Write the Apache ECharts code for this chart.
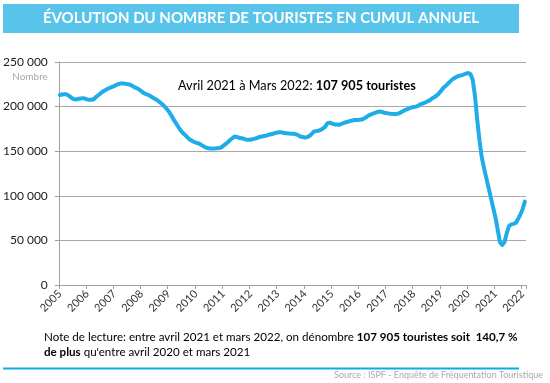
<!DOCTYPE html>
<html>
<head>
<meta charset="utf-8">
<script src="https://cdn.jsdelivr.net/npm/echarts@6/dist/echarts.min.js"></script>
<style>
html,body{margin:0;padding:0;background:#fff;}
#c{width:550px;height:383px;}
</style>
</head>
<body>
<div id="c"></div>
<script>
// Years shown on the x axis (monthly data from Jan 2005 to Feb 2022)
var years = [2005,2006,2007,2008,2009,2010,2011,2012,2013,2014,2015,2016,2017,2018,2019,2020,2021,2022];
// Annual cumulative number of tourists, one value per month, grouped by year
var v2005 = [213000,213500,214000,213500,212000,210000,208500,208000,208500,209000,209500,209000];
var v2006 = [208000,207800,207700,208500,211000,213000,215000,217000,218500,220000,221000,222000];
var v2007 = [223000,224500,225500,226000,226000,225500,225000,224500,223000,221500,220500,219000];
var v2008 = [217000,215000,214000,213000,211500,210000,208500,207000,205000,202800,200500,197500];
var v2009 = [194500,190500,186000,182000,178000,174000,171000,168500,166000,163500,162000,160500];
var v2010 = [159500,159000,157500,156000,154500,153500,153000,153000,153000,153200,153500,154000];
var v2011 = [156000,158000,160000,162500,164500,166500,166000,165000,164500,164000,163000,162800];
var v2012 = [162800,163500,164000,165000,166000,166500,167000,167500,168500,169000,169500,170500];
var v2013 = [171000,171400,171000,170500,170000,169800,169500,169500,169000,168000,166500,166000];
var v2014 = [165400,165800,167000,169500,172000,172500,173000,174000,175500,177500,181500,182000];
var v2015 = [181000,180000,179800,179600,180500,181500,182500,183000,184000,184500,185000,185000];
var v2016 = [185200,185500,186500,188000,190000,191000,192000,193000,194000,194500,194000,193000];
var v2017 = [192700,192300,192000,191800,191600,192000,193000,194500,196000,197000,198000,199000];
var v2018 = [199500,200000,201000,202800,203500,204500,205800,207000,209000,210500,212200,214500];
var v2019 = [217500,220800,223000,225500,228000,230500,232000,233500,234500,235000,236000,237000];
var v2020 = [237600,236500,230000,212000,185000,162000,143000,131000,120000,109000,98000,87000];
var v2021 = [76000,62000,48000,45000,48000,58000,66000,68000,68500,69500,74000,79000];
var v2022 = [85000,93500];

var yTicks = [0,50000,100000,150000,200000,250000];

var titleText = "ÉVOLUTION DU NOMBRE DE TOURISTES EN CUMUL ANNUEL";
var sourceText = "Source : ISPF - Enquête de Fréquentation Touristique";

var values = [].concat(v2005,v2006,v2007,v2008,v2009,v2010,v2011,v2012,v2013,v2014,v2015,v2016,v2017,v2018,v2019,v2020,v2021,v2022);
var cats = [];
for (var i = 0; i < values.length; i++) {
  cats.push(String(years[Math.floor(i/12)]) + '-' + (i%12+1));
}
function fmt(v){ return String(v).replace(/\B(?=(\d{3})+(?!\d))/g, ' '); }

var chart = echarts.init(document.getElementById('c'), null, {renderer:'canvas'});
var FONT = 'Lato, "Liberation Sans", sans-serif';
chart.setOption({
  animation: false,
  backgroundColor: '#fff',
  grid: {left: 57, top: 62, width: 469, height: 223, containLabel: false},
  xAxis: {
    type: 'category',
    data: cats,
    boundaryGap: true,
    axisLine: {show: true, lineStyle: {color: '#a0a0a0', width: 1}},
    axisTick: {show: true, length: 4, interval: function(i){return i % 12 === 0;}, lineStyle: {color: '#a0a0a0'}},
    axisLabel: {
      interval: function(i){return i % 12 === 0;},
      rotate: 45, margin: 7,
      fontFamily: FONT, fontSize: 11, color: '#333',
      formatter: function(v){ return v.split('-')[0]; }
    },
    splitLine: {show: false}
  },
  yAxis: {
    type: 'value',
    min: yTicks[0], max: yTicks[yTicks.length-1], interval: 50000,
    axisLine: {show: true, lineStyle: {color: '#a0a0a0', width: 1}},
    axisTick: {show: true, length: 4, lineStyle: {color: '#a0a0a0'}},
    axisLabel: {fontFamily: FONT, fontSize: 12, color: '#1a1a1a', margin: 11, formatter: fmt},
    splitLine: {show: true, lineStyle: {color: '#a8a8a8', width: 1}}
  },
  series: [{
    type: 'line',
    data: values,
    showSymbol: false,
    smooth: false,
    lineStyle: {color: '#1fadea', width: 4, cap: 'round', join: 'round'},
    itemStyle: {color: '#1fadea'}
  }],
  graphic: [
    {type: 'rect', shape: {x: 3, y: 4, width: 516, height: 29}, style: {fill: '#58c4e9'}},
    {type: 'text', x: 261, y: 18.5, style: {text: titleText, fill: '#fff', font: 'bold 15px ' + FONT, textAlign: 'center', textVerticalAlign: 'middle'}},
    {type: 'text', x: 30, y: 77, style: {text: 'Nombre', fill: '#a9a9a9', font: '10px ' + FONT, textAlign: 'center', textVerticalAlign: 'middle'}},
    {type: 'text', x: 178, y: 86, style: {
      text: '{n|Avril 2021 à Mars 2022: }{b|107 905 touristes}',
      textVerticalAlign: 'middle',
      rich: {n: {fontFamily: FONT, fontSize: 12.7, color: '#111'}, b: {fontFamily: FONT, fontSize: 12.7, fontWeight: 'bold', color: '#111'}}
    }},
    {type: 'text', x: 44, y: 337, style: {
      text: '{n|Note de lecture: entre avril 2021 et mars 2022, on dénombre }{b|107 905 touristes soit  140,7 %}',
      textVerticalAlign: 'middle',
      rich: {n: {fontFamily: FONT, fontSize: 11.6, color: '#111'}, b: {fontFamily: FONT, fontSize: 11.6, fontWeight: 'bold', color: '#111'}}
    }},
    {type: 'text', x: 44, y: 352, style: {
      text: '{b|de plus}{n| qu\'entre avril 2020 et mars 2021}',
      textVerticalAlign: 'middle',
      rich: {n: {fontFamily: FONT, fontSize: 11.6, color: '#111'}, b: {fontFamily: FONT, fontSize: 11.6, fontWeight: 'bold', color: '#111'}}
    }},
    {type: 'rect', shape: {x: 3, y: 367.5, width: 516, height: 2}, style: {fill: '#10a9e6'}},
    {type: 'text', x: 543, y: 375.5, style: {text: sourceText, fill: '#a9a9a9', font: '9px ' + FONT, textAlign: 'right', textVerticalAlign: 'middle'}}
  ]
});
</script>
</body>
</html>
